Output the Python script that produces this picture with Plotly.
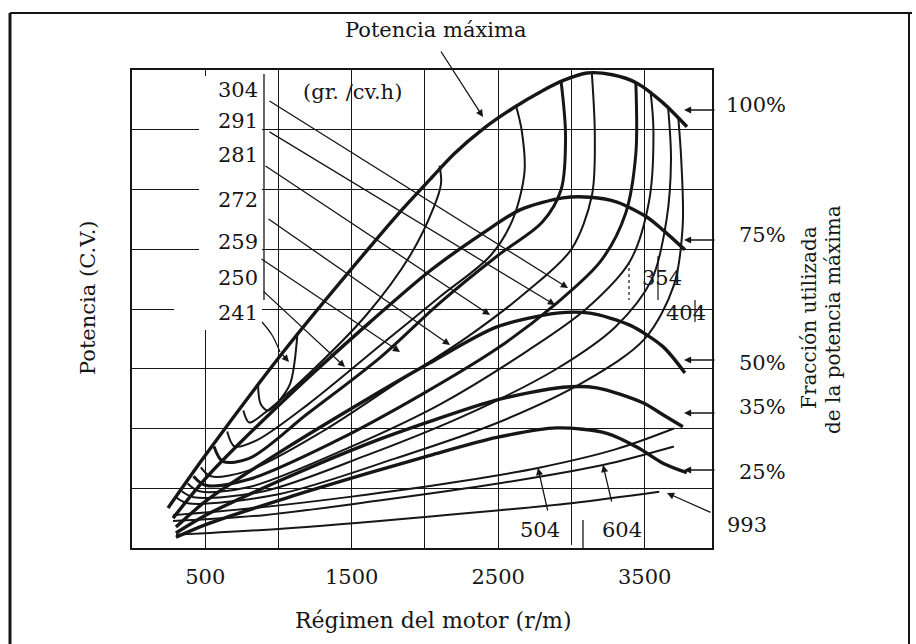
import plotly.graph_objects as go

# ---------------- data ----------------
RPM_RANGE = [0, 3960]
POWER_RANGE = [0, 8]
X_TICKS = [500, 1000, 1500, 2000, 2500, 3000, 3500]
X_TICK_TEXT = ["500", "", "1500", "", "2500", "", "3500"]
Y_GRID = [1, 2, 3, 4, 5, 6, 7]

# load curves (fraction of maximum power)
LOAD_NAMES = ["100%", "75%", "50%", "35%", "25%"]
LOAD_RPM = [
    [246, 512, 1058, 1625, 1850, 2035, 2200, 2400, 2600, 2800, 2950, 3107, 3280, 3448, 3626, 3789],
    [280, 512, 1058, 1625, 2035, 2396, 2649, 2943, 3127, 3311, 3515, 3626, 3775],
    [300, 512, 1058, 1625, 2035, 2491, 2901, 3126, 3399, 3625, 3775],
    [300, 512, 1058, 1625, 2035, 2491, 2942, 3174, 3488, 3625, 3761],
    [300, 512, 1058, 1625, 2035, 2491, 2901, 3242, 3447, 3625, 3788],
]
LOAD_POWER = [
    [0.67, 1.59, 3.36, 5.04, 5.68, 6.17, 6.60, 7.02, 7.36, 7.65, 7.83, 7.95, 7.92, 7.78, 7.45, 7.05],
    [0.50, 1.19, 2.52, 3.78, 4.64, 5.27, 5.66, 5.86, 5.87, 5.79, 5.54, 5.32, 4.99],
    [0.35, 0.80, 1.68, 2.52, 3.10, 3.70, 3.93, 3.93, 3.73, 3.37, 2.93],
    [0.25, 0.56, 1.18, 1.76, 2.12, 2.48, 2.69, 2.68, 2.43, 2.23, 2.03],
    [0.18, 0.40, 0.84, 1.26, 1.55, 1.85, 2.01, 1.92, 1.69, 1.42, 1.26],
]

# specific consumption contours (gr/cv.h)
CONTOUR_LABELS = ["241", "250", "259", "272", "281", "291", "304", "354", "404", "504", "604", "993"]
CONTOUR_RPM = [
    [860, 880, 930, 1000, 1080, 1130],
    [760, 800, 900, 1200, 1600, 1900, 2060, 2110, 2100],
    [650, 700, 850, 1200, 1700, 2100, 2450, 2600, 2680, 2660, 2620],
    [560, 620, 800, 1200, 1700, 2100, 2500, 2800, 2930, 2960, 2930],
    [470, 540, 800, 1300, 1800, 2300, 2700, 3000, 3140, 3160, 3140],
    [420, 500, 800, 1400, 2000, 2500, 2900, 3200, 3370, 3440, 3440],
    [380, 460, 800, 1500, 2100, 2700, 3100, 3400, 3530, 3560, 3540],
    [340, 420, 900, 1600, 2300, 2900, 3300, 3550, 3650, 3680, 3660],
    [300, 380, 1000, 1800, 2500, 3100, 3500, 3700, 3760, 3750, 3730],
    [280, 800, 1500, 2200, 2772, 3300, 3700],
    [280, 900, 1700, 2500, 3216, 3700],
    [300, 1000, 2000, 3000, 3600],
]
CONTOUR_POWER = [
    [2.75, 2.40, 2.30, 2.45, 2.75, 3.60],
    [2.30, 2.10, 2.25, 2.90, 3.90, 4.90, 5.70, 6.10, 6.40],
    [1.95, 1.70, 1.80, 2.40, 3.40, 4.20, 4.90, 5.50, 6.30, 7.00, 7.42],
    [1.70, 1.45, 1.50, 2.25, 3.20, 4.10, 4.90, 5.45, 6.00, 6.90, 7.80],
    [1.35, 1.20, 1.30, 1.95, 2.75, 3.55, 4.30, 5.00, 5.90, 6.90, 7.93],
    [1.20, 1.05, 1.15, 1.80, 2.60, 3.35, 4.10, 4.80, 5.60, 6.60, 7.78],
    [1.08, 0.95, 1.02, 1.70, 2.40, 3.30, 4.00, 4.80, 5.80, 7.00, 7.65],
    [0.95, 0.85, 0.95, 1.55, 2.25, 3.00, 3.70, 4.50, 5.50, 6.50, 7.38],
    [0.85, 0.75, 0.90, 1.50, 2.10, 2.80, 3.50, 4.40, 5.40, 6.50, 7.20],
    [0.55, 0.66, 0.86, 1.10, 1.34, 1.65, 2.00],
    [0.45, 0.55, 0.80, 1.08, 1.39, 1.70],
    [0.22, 0.32, 0.52, 0.75, 0.94],
]
CONTOUR_WIDTH_CLASS = ["thin", "thin", "thin", "thick", "thin", "thick", "thin", "thin", "thin", "thin", "thin", "thin"]

# ---------------- geometry helpers (pixel <-> axis) ----------------
L, R, T, B = 132, 712, 70, 548
W, H = 916, 644


def dx(px):
    return (px - L) * (RPM_RANGE[1] - RPM_RANGE[0]) / (R - L) + RPM_RANGE[0]


def dy(py):
    return (B - py) * (POWER_RANGE[1] - POWER_RANGE[0]) / (B - T) + POWER_RANGE[0]


def px_(px):
    return (px - L) / (R - L)


def py_(py):
    return (B - py) / (B - T)


FONT = "DejaVu Serif"
INK = "#161616"

fig = go.Figure()

# contours
for i, lab in enumerate(CONTOUR_LABELS):
    w = 3.0 if CONTOUR_WIDTH_CLASS[i] == "thick" else 2.0
    fig.add_trace(go.Scatter(x=CONTOUR_RPM[i], y=CONTOUR_POWER[i], mode="lines",
                             line=dict(color=INK, width=w, shape="spline", smoothing=0.9),
                             name=lab, hoverinfo="skip"))

# load curves
for i, lab in enumerate(LOAD_NAMES):
    fig.add_trace(go.Scatter(x=LOAD_RPM[i], y=LOAD_POWER[i], mode="lines",
                             line=dict(color=INK, width=3.4, shape="spline", smoothing=0.8),
                             name=lab, hoverinfo="skip"))

shapes = []
# white gaps in the grid where the labels sit
shapes.append(dict(type="rect", xref="x", yref="y", x0=dx(199), x1=dx(262), y0=dy(318), y1=dy(76),
                   fillcolor="white", line=dict(width=0), layer="between"))
shapes.append(dict(type="rect", xref="x", yref="y", x0=dx(174), x1=dx(262), y0=dy(330), y1=dy(300),
                   fillcolor="white", line=dict(width=0), layer="between"))
# bracket line next to the consumption labels
shapes.append(dict(type="line", xref="x", yref="y", x0=dx(264), x1=dx(264), y0=dy(74), y1=dy(300),
                   line=dict(color=INK, width=1.3)))
# small brackets for 354 / 404
for (xa, ya, yb) in [(658, 256, 300), (695, 300, 322), (629, 262, 300)]:
    shapes.append(dict(type="line", xref="x", yref="y", x0=dx(xa), x1=dx(xa), y0=dy(ya), y1=dy(yb),
                       line=dict(color=INK, width=1.2, dash="dot" if xa == 629 else "solid")))
# bracket under 504 / 604
shapes.append(dict(type="rect", xref="x", yref="y", x0=dx(521), x1=dx(582), y0=dy(551), y1=dy(545),
                   fillcolor="white", line=dict(width=0), layer="above"))
shapes.append(dict(type="line", xref="x", yref="y", x0=dx(583), x1=dx(583), y0=dy(520), y1=dy(548),
                   line=dict(color=INK, width=1.3)))
shapes.append(dict(type="line", xref="x", yref="y", x0=dx(555), x1=dx(578), y0=dy(549), y1=dy(549),
                   line=dict(color=INK, width=1.2, dash="dash")))
# outer frame of the figure
shapes.append(dict(type="line", xref="paper", yref="paper", x0=px_(10), x1=px_(10), y0=py_(13), y1=py_(646),
                   line=dict(color=INK, width=3)))
shapes.append(dict(type="line", xref="paper", yref="paper", x0=px_(10), x1=px_(912), y0=py_(13), y1=py_(13),
                   line=dict(color=INK, width=2)))
shapes.append(dict(type="line", xref="paper", yref="paper", x0=px_(909), x1=px_(909), y0=py_(13), y1=py_(646),
                   line=dict(color=INK, width=2)))

annotations = []


def text(s, x, y, size=21, angle=0, xanchor="center"):
    annotations.append(dict(text=s, x=px_(x), y=py_(y), xref="paper", yref="paper", showarrow=False,
                            font=dict(family=FONT, size=size, color=INK), textangle=angle,
                            xanchor=xanchor, yanchor="middle"))


def arrow(x0, y0, x1, y1, width=1.3, head=2):
    annotations.append(dict(text="", x=dx(x1), y=dy(y1), ax=dx(x0), ay=dy(y0),
                            xref="x", yref="y", axref="x", ayref="y", showarrow=True,
                            arrowhead=head, arrowsize=1.1, arrowwidth=width, arrowcolor=INK))


text("Potencia máxima", 435, 30, 21)
arrow(440, 50, 483, 117)
text("(gr. /cv.h)", 352, 92, 21)

for lab, y in zip(["304", "291", "281", "272", "259", "250", "241"], [90, 121, 155, 200, 242, 278, 313]):
    text(lab, 238, y, 21)

# leader lines to the consumption contours
arrow(268, 100, 568, 288)
arrow(268, 131, 555, 305)
arrow(264, 165, 490, 315)
arrow(267, 218, 450, 345)
arrow(260, 258, 400, 352)
arrow(262, 290, 345, 367)
fig.add_trace(go.Scatter(x=[dx(262), dx(272), dx(280)], y=[dy(322), dy(335), dy(352)], mode="lines",
                         line=dict(color=INK, width=1.3, shape="spline"), hoverinfo="skip"))
arrow(280, 352, 289, 362)

text("354", 662, 278, 21)
text("404", 686, 313, 21)
text("504", 540, 530, 21)
text("604", 622, 530, 21)
arrow(548, 512, 538, 468)
arrow(612, 503, 603, 465)
text("993", 747, 525, 21)
arrow(712, 513, 667, 493)

for lab, y, ay in [("100%", 105, 110), ("75%", 235, 240), ("50%", 363, 360), ("35%", 407, 413), ("25%", 472, 470)]:
    text(lab, 724 if lab == "100%" else 737, y, 21, xanchor="left")
    arrow(716, ay, 684, ay)

text("Fracción utilizada", 809, 318, 20, angle=-90)
text("de la potencia máxima", 833, 320, 20, angle=-90)
text("Potencia (C.V.)", 88, 298, 21, angle=-90)
text("Régimen del motor (r/m)", 433, 620, 22)

fig.update_layout(
    width=W, height=H,
    margin=dict(l=L, r=W - R, t=T, b=H - B),
    plot_bgcolor="white", paper_bgcolor="white",
    showlegend=False,
    shapes=shapes, annotations=annotations,
    xaxis=dict(range=RPM_RANGE, tickvals=X_TICKS, ticktext=X_TICK_TEXT, showgrid=True,
               gridcolor=INK, gridwidth=1.3, showline=True, mirror=True, linecolor=INK, linewidth=2,
               ticks="", zeroline=False, ticklabelstandoff=9,
               tickfont=dict(family=FONT, size=21, color=INK)),
    yaxis=dict(range=POWER_RANGE, tickvals=Y_GRID, showticklabels=False, showgrid=True,
               gridcolor=INK, gridwidth=1.3, showline=True, mirror=True, linecolor=INK, linewidth=2,
               ticks="", zeroline=False),
)

fig.write_html("out.html", post_script="document.body.style.margin='0';",
               config={"displayModeBar": False})
